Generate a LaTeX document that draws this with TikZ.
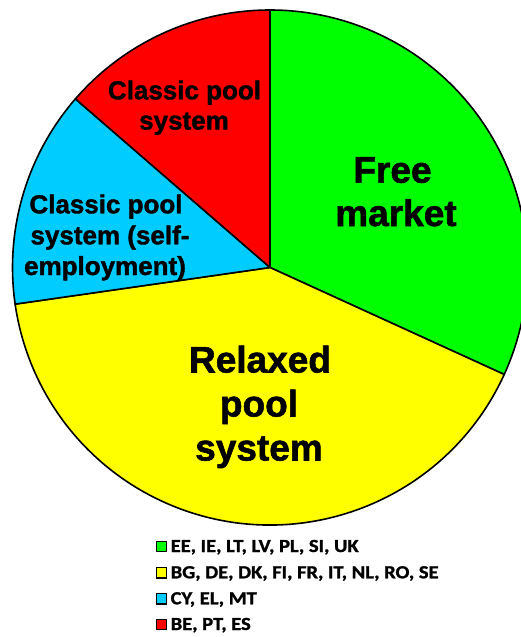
\documentclass[tikz,border=0pt]{standalone}
\usepackage{fontspec}
\setmainfont{Liberation Sans}
\newfontfamily\lblfont[BoldFeatures={FakeBold=1.5}]{Liberation Sans}
\newfontfamily\legfont[BoldFeatures={FakeBold=1.2}]{Carlito}
\definecolor{pgreen}{HTML}{00FF00}
\definecolor{pyellow}{HTML}{FFFF00}
\definecolor{pblue}{HTML}{00CCFF}
\definecolor{pred}{HTML}{FF0000}
\begin{document}
\begin{tikzpicture}[x=1pt,y=-1pt,
  slice/.style={draw=black,line width=1.6pt,line join=round},
  biglbl/.style={anchor=base,inner sep=0pt,font=\lblfont\fontsize{37}{43}\selectfont\bfseries},
  smlbl/.style={anchor=base,inner sep=0pt,font=\lblfont\fontsize{26}{30}\selectfont\bfseries},
  sq/.style={draw=black,line width=1.4pt,minimum size=10.5pt,inner sep=0pt},
  leg/.style={anchor=base west,inner sep=0pt,font=\legfont\fontsize{18.5}{20}\selectfont\bfseries}]
\useasboundingbox (0,0) rectangle (521,637);
\begin{scope}
\clip (0,0) rectangle (521,637);
\coordinate (c) at (270,267.5);
\filldraw[slice,fill=pgreen] (c) -- ++(-90:257.5) arc[start angle=-90,end angle=24.545,radius=257.5] -- cycle;
\filldraw[slice,fill=pyellow] (c) -- ++(24.545:257.5) arc[start angle=24.545,end angle=171.82,radius=257.5] -- cycle;
\filldraw[slice,fill=pblue] (c) -- ++(171.82:257.5) arc[start angle=171.82,end angle=220.91,radius=257.5] -- cycle;
\filldraw[slice,fill=pred] (c) -- ++(220.91:257.5) arc[start angle=220.91,end angle=270,radius=257.5] -- cycle;
\end{scope}
% labels
\node[biglbl] (free1) at (392.5,182.7) {Free};
\node[biglbl] (free2) at (396,226) {market};
\node[biglbl] (rel1) at (260,372.5) {Relaxed};
\node[biglbl] (rel2) at (259,416.5) {pool};
\node[biglbl] (rel3) at (259,460.5) {system};
\node[smlbl] (red1) at (184.5,99.3) {Classic pool};
\node[smlbl] (red2) at (184,129.5) {system};
\node[smlbl] (blu1) at (106,213.3) {Classic pool};
\node[smlbl] (blu2) at (110,244.3) {system (self-};
\node[smlbl] (blu3) at (105,275) {employment)};
% legend
\node[sq,fill=pgreen] (s1) at (161.5,546.5) {};
\node[sq,fill=pyellow] (s2) at (161.5,572.8) {};
\node[sq,fill=pblue] (s3) at (161.5,598.8) {};
\node[sq,fill=pred] (s4) at (161.5,624.5) {};
\node[leg] (l1) at (170.5,552) {\scalebox{1.11}[1]{EE, IE, LT, LV, PL, SI, UK}};
\node[leg] (l2) at (170.5,578.3) {\scalebox{1.11}[1]{BG, DE, DK, FI, FR, IT, NL, RO, SE}};
\node[leg] (l3) at (170.5,604.3) {\scalebox{1.11}[1]{CY, EL, MT}};
\node[leg] (l4) at (170.5,630) {\scalebox{1.11}[1]{BE, PT, ES}};
\end{tikzpicture}
\end{document}
